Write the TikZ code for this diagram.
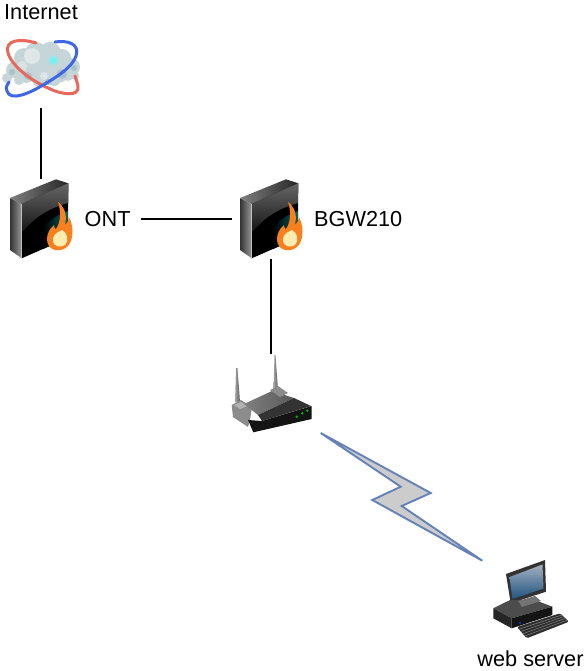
\documentclass[tikz,border=0pt]{standalone}
\usepackage{fontspec}
\setsansfont{Liberation Sans}
\usepackage{tikz}
\usetikzlibrary{
  calc
}

\definecolor{linkblue}{HTML}{6482B8}
\definecolor{linkfill}{HTML}{CCCCCC}
\definecolor{cloudgrey}{HTML}{C6D5D8}
\definecolor{clouddark}{HTML}{A9C2C8}
\definecolor{ringred}{HTML}{E8695C}
\definecolor{ringblue}{HTML}{3F66E6}
\definecolor{flameorange}{HTML}{F9801E}
\definecolor{flamepale}{HTML}{FFEDB0}
\definecolor{screentop}{HTML}{A3AFBD}
\definecolor{screenlow}{HTML}{1F5480}

\begin{document}
\begin{tikzpicture}[
  x=1pt,
  y=-1pt,
  font=\sffamily\fontsize{21.7}{25}\selectfont,
  iconbox/.style={inner sep=0pt, minimum width=78pt, minimum height=80pt},
  devlabel/.style={inner sep=0pt, inner xsep=10pt, anchor=west},
  wire/.style={line width=1.9pt, black},
  flash/.style={line width=1.9pt, draw=linkblue, fill=linkfill, line join=miter},
  firewall/.pic={
    % Left side, top and glossy front of the box.
    \shade[left color=black!80, right color=black!40]
      (-31,-21) -- (-19.3,-15) -- (-19.3,39.3) -- (-31,31) -- cycle;
    \shade[left color=black!50, right color=black!85]
      (-31,-21) -- (15,-39.7) -- (27.3,-35.7) -- (-19.3,-15) -- cycle;
    \fill[black] (-19.3,-15) -- (27.3,-35.7) -- (27,19) -- (-19.3,39.3) -- cycle;
    \shade[top color=black!60, bottom color=black!92]
      (-19.3,-15) -- (27.3,-35.7) -- (27.3,-16)
      .. controls (5,-10) and (-8,0) .. (-19.3,14) -- cycle;
    \shade[left color=black, right color=cyan!40!black]
      (2,8) .. controls (10,0) and (18,-5) .. (27,-8)
      -- (27,19) -- (2,30) -- cycle;
    \draw[black!25,line width=0.6pt] (-19.3,-15) -- (-19.3,39.3);
    % Flame in the corner.
    \fill[flameorange] (17,-17.5) .. controls (27,-8) and (25,0) .. (24,6)
      .. controls (27,3) and (28,0) .. (28,-2)
      .. controls (33,8) and (32,18) .. (29,24)
      .. controls (25,33) and (10,34) .. (7,25)
      .. controls (4,17) and (9,9) .. (13,6)
      .. controls (13,9) and (14,10) .. (15,10)
      .. controls (20,3) and (20,-8) .. (17,-17.5) -- cycle;
    \fill[flamepale] (12,21) .. controls (12,14) and (18,13) .. (21,11)
      .. controls (27,14) and (28,22) .. (24,26)
      .. controls (20,29) and (12,28) .. (12,21) -- cycle;
  }
]
  \useasboundingbox (0,0) rectangle (584,671);

  % Device boxes and their labels.
  \node[iconbox] (internet) at (41,68) {};
  \node[iconbox] (ont) at (41,219) {};
  \node[iconbox] (bgw) at (271,219) {};
  \node[iconbox] (router) at (271,394.5) {};
  \node[inner sep=0pt] (internetlabel) at (41,12.5) {Internet};
  \node[devlabel] (ontlabel) at (74.5,219) {ONT};
  \node[devlabel] (bgwlabel) at (304,219) {BGW210};
  \node[inner sep=0pt] (serverlabel) at (530.5,659) {web server};

  % Cloud with the two rings across it.
  \foreach \cx/\cy/\rr in {14/70/8,24/58/10,36/53/11,50/53/11,62/58/9,
                           71/67/9,58/71/12,42/69/14,26/72/11,40/79/8,
                           54/79/7,7/78/5,75/76/4,19/80/5,68/76/5}
    \fill[cloudgrey] (\cx,\cy) circle (\rr);
  \foreach \cx/\cy/\rr in {12/72/3,62/74/5,74/68/3,28/76/4,48/82/3}
    \fill[clouddark] (\cx,\cy) circle (\rr);
  \fill[white,opacity=0.45] (32,56) circle (8);
  \fill[white,opacity=0.4] (44,76) circle (4);
  \fill[white,opacity=0.35] (22,66) circle (5);
  \shade[inner color=cyan!70!white, outer color=cloudgrey] (53,60) circle (6);
  \draw[line width=3pt,ringred,line cap=round]
    (36,43) .. controls (20,38) and (4,40) .. (8,53)
    .. controls (12,66) and (30,80) .. (48,88)
    .. controls (62,95) and (80,97) .. (78,86)
    .. controls (77,82) .. (75,76);
  \draw[line width=3pt,ringblue,line cap=round]
    (55,42) .. controls (68,40) and (80,44) .. (76,56)
    .. controls (72,68) and (55,78) .. (43,85)
    .. controls (30,93) and (10,102) .. (7,91)
    .. controls (6,87) .. (9,82);

  % Both firewalls.
  \pic at (41,219) {firewall};
  \pic at (271,219) {firewall};

  % Router with its antennas.
  \shade[left color=black!35, right color=black!65]
    (274.5,355) -- (275.5,355) -- (278,390) -- (273.5,390) -- cycle;
  \shade[left color=black!35, right color=black!65]
    (236,368) -- (237.5,368) -- (240,402) -- (235,402) -- cycle;
  \fill[black!45] (231.7,405) -- (241,400) -- (252,407) -- (250,420) -- (248,427) -- (233,417) -- cycle;
  \fill[black!30] (234,405) -- (241,402) -- (247,406) -- (240,409) -- cycle;
  \shade[left color=black!50, right color=black!65]
    (244,404) -- (272,391) -- (294,398) -- (258,415) -- cycle;
  \fill[black!45] (270,390) -- (278,386) -- (288,393) -- (280,397) -- cycle;
  \fill[black!80] (258,415) -- (294,398) -- (311,406) -- (262,421) -- cycle;
  \fill[black!92] (248,420) -- (262,421) -- (311.7,406) -- (311.7,419) -- (253.3,432.3) -- cycle;
  \fill[green!75!black] (296.7,416.7) circle (1.3) (302.3,413.3) circle (1.3) (307.3,410.7) circle (1.3);

  % Computer with screen and keyboard.
  \fill[black!80] (506,574) -- (545,560) -- (546,591.7) -- (510.7,603.3) -- cycle;
  \shade[top color=screentop, bottom color=screenlow]
    (509.5,577) -- (542.5,564.5) -- (543.5,588.5) -- (512.5,599) -- cycle;
  \fill[black!70] (493.3,608.3) -- (510,600) -- (535,600) -- (552.3,606.7) -- (511.7,618.3) -- cycle;
  \fill[black!55] (518,601) -- (535,596) -- (541,601) -- (522,607) -- cycle;
  \fill[black!85] (493.3,608.3) -- (511.7,618.3) -- (511.7,628.3) -- (493.3,618.3) -- cycle;
  \fill[black!92] (511.7,618.3) -- (552.3,606.7) -- (552.3,615) -- (511.7,628.3) -- cycle;
  \fill[blue!70!cyan!70!black] (520,623) circle (1.5);
  \fill[black!82,rounded corners=1.5pt] (517,627) -- (560,613.3) -- (569,621.7) -- (526.7,638.3) -- cycle;
  \foreach \t in {0.2,0.4,0.6,0.8}
    \draw[black!50,line width=0.5pt] ($(517,627)!\t!(526.7,638.3)$) -- ($(560,613.3)!\t!(569,621.7)$);

  % Wires between the devices.
  \draw[wire] (internet.south) -- (ont.north);
  \draw[wire] (ontlabel.east) -- (bgw.west);
  \draw[wire] (bgw.south) -- (router.north);

  % Wireless link as a lightning bolt.
  \coordinate (linkstart) at (320.7,433);
  \coordinate (linkend) at (482.3,560.7);
  \draw[flash] (linkstart) -- (430.7,493) -- (401.7,506) -- (linkend)
    -- (372.3,500) -- (400.7,486.7) -- cycle;
\end{tikzpicture}
\end{document}
